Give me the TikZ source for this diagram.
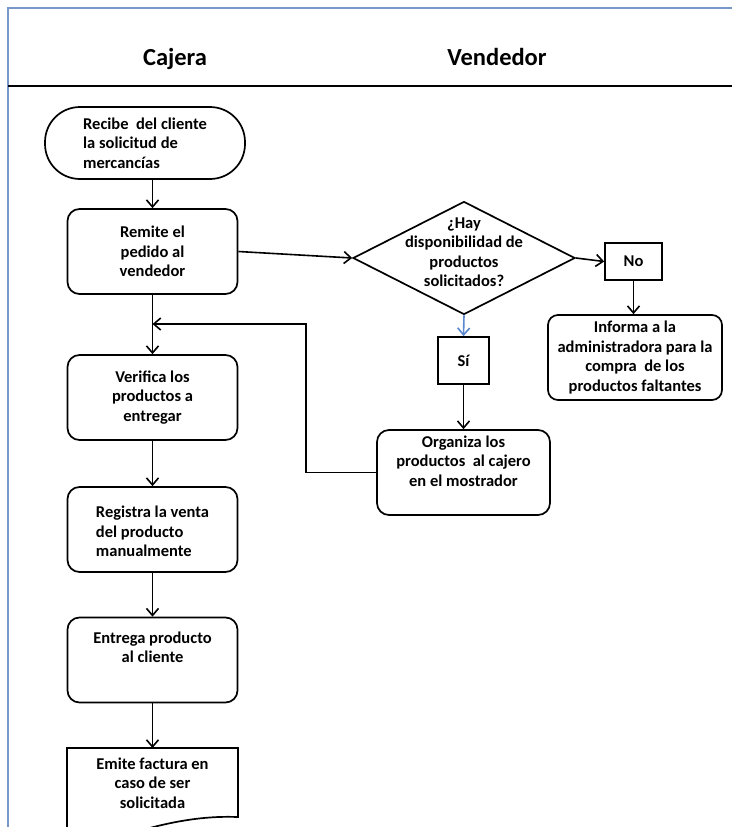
\documentclass[tikz,border=0pt]{standalone}
\usepackage{fontspec}
\setmainfont{Carlito}
\usetikzlibrary{positioning,shapes.geometric,arrows.meta}

\definecolor{framecol}{RGB}{120,150,200}
\definecolor{yescol}{RGB}{90,135,205}

\tikzset{
  txt/.style={font=\bfseries\fontsize{16.5}{19.5}\selectfont},
  box/.style={txt, draw, line width=1.7pt, rounded corners=12pt,
    minimum width=170pt, minimum height=85pt, align=center, inner sep=2pt},
  term/.style={box, rounded corners=35pt, minimum width=200pt, minimum height=72pt},
  tag/.style={txt, draw, line width=1.7pt, inner sep=0pt},
  decision/.style={draw, line width=1.7pt, diamond, inner sep=0pt,
    minimum width=222pt, minimum height=113pt},
  title/.style={font=\bfseries\fontsize{24.5}{28}\selectfont},
  arr/.style={line width=1.6pt, -{Straight Barb[length=7pt,width=12pt]}}
}

\begin{document}
\begin{tikzpicture}[x=1pt,y=-1pt]
    \useasboundingbox (0,0) rectangle (732,827);
    \clip (0,0) rectangle (732,827);
    % frame and header
    \draw[framecol, line width=1.2pt] (8,827) -- (8,8) -- (732,8);
    \draw[line width=2.2pt] (8,86) -- (732,86);
    \node[title] (cajera) at (175,59) {Cajera};
    \node[title] (vendedor) at (497,57) {Vendedor};

    % cajera
    \node[term, align=left] (start) at (145,143)
        {Recibe \ del cliente\\la solicitud de\\mercancías};
    \node[box] (remite) at (152.5,251.5) {Remite el\\pedido al\\vendedor};
    \node[box] (verifica) at (152.5,397.5) {\\[-8pt]Verifica los\\productos a\\entregar};
    \node[box, align=left] (registra) at (152.5,529.5)
        {\\[-4pt]Registra la venta\hspace{10pt}\\del producto\\manualmente};
    \node[box] (entrega) at (152.5,660) {Entrega producto\\al cliente\\[6pt]};
    % document shape, cut by the page
    \draw[line width=1.7pt] (67,840) -- (67,748) -- (238,748) -- (238,817)
        .. controls (210,816) and (180,819) .. (135,832);
    \node[txt, align=center] (emite) at (152.5,783)
        {Emite factura en\\caso de ser\\solicitada};

    % vendedor
    \node[decision] (q) at (464,258) {};
    \node[txt, align=center] (qtext) at (464,252)
        {¿Hay\\disponibilidad de\\productos\\solicitados?};
    \node[tag, minimum width=57pt, minimum height=37pt] (no) at (633.5,261.5) {No};
    \node[box, rounded corners=10pt, minimum width=174pt] (informa) at (635,357.5)
        {Informa a la\\administradora para la\\compra \ de los\\productos faltantes};
    \node[tag, minimum width=51pt, minimum height=47pt] (si) at (463.5,360.5) {Sí};
    \node[box, minimum width=173pt] (organiza) at (463.5,472.5)
        {Organiza los\\productos \ al cajero\\en el mostrador\\[4pt]};

    % connectors
    \draw[arr] (remite.north |- start.south) -- (remite.north);
    \draw[arr] (remite.south) -- (verifica.north);
    \draw[arr] (verifica.south) -- (registra.north);
    \draw[arr] (registra.south) -- (entrega.north);
    \draw[arr] (entrega.south) -- (152.5,748);
    \draw[arr] (remite.east) -- (q.west);
    \draw[arr] (q.east) -- (no.west);
    \draw[arr] (no.south) -- (no.south |- informa.north);
    \draw[arr, yescol] (q.south) -- (si.north);
    \draw[arr] (si.south) -- (organiza.north);
    \coordinate (back) at (306,324);
    \draw[arr] (organiza.west) -| (back) -- (back -| remite.south);
\end{tikzpicture}
\end{document}
